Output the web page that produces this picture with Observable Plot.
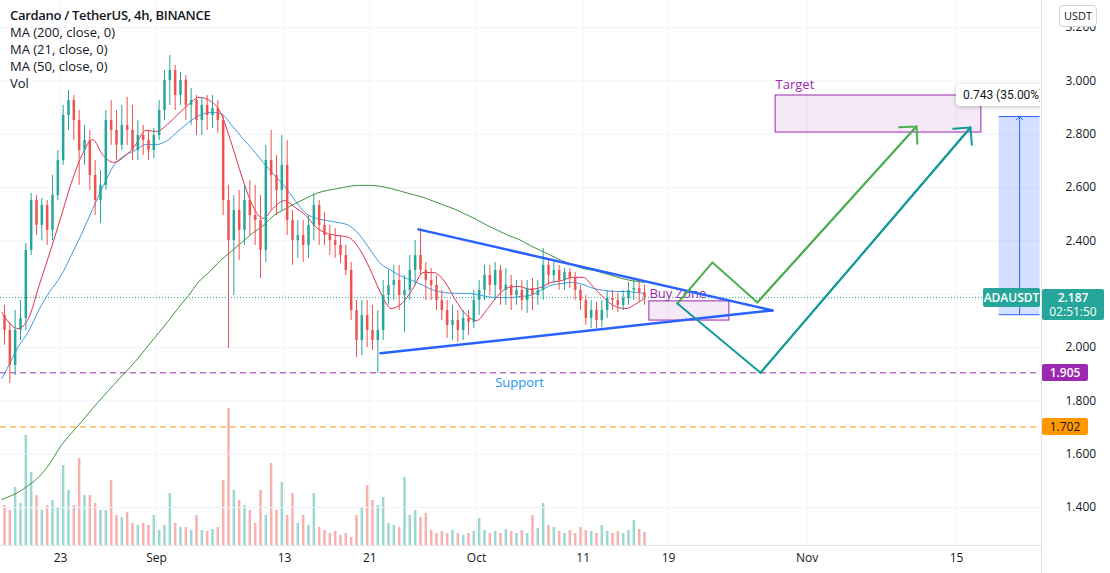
<!DOCTYPE html>
<html><head><meta charset="utf-8">
<script src="https://cdn.jsdelivr.net/npm/d3@7"></script>
<script src="https://cdn.jsdelivr.net/npm/@observablehq/plot@0.6"></script>
<style>
body{margin:0;background:#fff;}
#wrap{position:relative;width:1110px;height:573px;overflow:hidden;font-family:'Open Sans','Noto Sans',sans-serif;color:#131722;}
#wrap svg{position:absolute;left:0;top:0;}
.ov{position:absolute;}
#legend{left:10px;top:7px;font-size:13px;line-height:17px;}
#legend .t{font-weight:600;letter-spacing:-0.3px;}
.badge{position:absolute;font-size:12px;font-weight:600;text-align:center;border-radius:2px;}
#pane{position:absolute;left:0;top:0;width:1040px;height:545px;overflow:hidden;}
.sep{position:absolute;background:#e0e3eb;}
</style></head>
<body><div id="wrap"></div>
<script>
// ---------- data ----------
const candleStart = "2021-08-17T12:00:00Z";
const candleHours = 12;
const open = [
2.120,2.064,1.933,2.064,2.109,2.364,2.551,2.458,2.533,2.439,
2.570,2.701,2.870,2.926,2.851,2.739,2.776,2.645,2.551,2.608,
2.851,2.814,2.758,2.833,2.814,2.739,2.795,2.776,2.739,2.795,
2.889,3.001,3.039,2.945,3.001,2.908,2.926,2.851,2.908,2.870,
2.896,2.851,2.551,2.401,2.514,2.439,2.551,2.495,2.476,2.364,
2.701,2.645,2.589,2.683,2.476,2.401,2.420,2.383,2.458,2.533,
2.458,2.420,2.401,2.383,2.345,2.289,2.139,2.026,2.120,2.064,
2.026,2.064,2.195,2.233,2.251,2.195,2.214,2.289,2.345,2.289,
2.251,2.233,2.176,2.139,2.083,2.101,2.064,2.109,2.094,2.176,
2.214,2.270,2.233,2.289,2.214,2.233,2.195,2.214,2.176,2.221,
2.195,2.214,2.308,2.270,2.289,2.251,2.281,2.259,2.214,2.176,
2.109,2.139,2.101,2.139,2.184,2.176,2.158,2.184,2.214,2.221,2.206];
const high = [
2.158,2.094,2.139,2.176,2.390,2.578,2.570,2.559,2.551,2.645,
2.739,2.908,2.964,2.945,2.889,2.833,2.814,2.701,2.664,2.889,
2.926,2.889,2.908,2.938,2.908,2.851,2.833,2.814,2.821,2.926,
3.039,3.095,3.058,3.031,3.020,2.971,2.945,2.938,2.945,2.945,
2.926,2.870,2.608,2.570,2.589,2.608,2.626,2.608,2.570,2.758,
2.814,2.720,2.795,2.776,2.514,2.476,2.476,2.495,2.578,2.551,
2.506,2.458,2.446,2.420,2.383,2.319,2.176,2.176,2.176,2.158,
2.139,2.251,2.289,2.308,2.308,2.270,2.345,2.401,2.446,2.319,
2.296,2.270,2.214,2.176,2.158,2.139,2.139,2.139,2.214,2.251,
2.308,2.308,2.319,2.308,2.296,2.270,2.251,2.251,2.251,2.259,
2.251,2.371,2.334,2.319,2.308,2.296,2.296,2.281,2.233,2.195,
2.176,2.169,2.176,2.214,2.214,2.203,2.214,2.244,2.251,2.251,2.233];
const low = [
2.008,1.865,1.895,2.026,2.064,2.345,2.420,2.401,2.383,2.401,
2.551,2.683,2.814,2.776,2.608,2.683,2.589,2.495,2.465,2.589,
2.758,2.701,2.739,2.758,2.701,2.701,2.720,2.701,2.709,2.776,
2.851,2.908,2.889,2.908,2.851,2.833,2.795,2.795,2.814,2.821,
2.803,2.495,1.996,2.195,2.326,2.383,2.420,2.383,2.259,2.319,
2.514,2.495,2.514,2.420,2.308,2.334,2.319,2.334,2.401,2.383,
2.383,2.345,2.334,2.315,2.270,2.101,1.962,1.970,2.000,1.989,
1.903,2.026,2.158,2.176,2.139,2.056,2.176,2.233,2.270,2.176,
2.176,2.139,2.101,2.034,2.026,2.019,2.026,2.045,2.071,2.120,
2.176,2.195,2.176,2.158,2.158,2.139,2.158,2.139,2.128,2.139,
2.158,2.176,2.233,2.240,2.214,2.214,2.221,2.176,2.139,2.083,
2.071,2.071,2.075,2.109,2.139,2.131,2.139,2.158,2.176,2.169,2.158];
const close = [
2.064,1.933,2.064,2.109,2.364,2.551,2.458,2.533,2.439,2.570,
2.701,2.870,2.926,2.851,2.739,2.776,2.645,2.551,2.608,2.851,
2.814,2.758,2.833,2.814,2.739,2.795,2.776,2.739,2.795,2.889,
3.001,3.039,2.945,3.001,2.908,2.926,2.851,2.908,2.870,2.896,
2.851,2.551,2.401,2.514,2.439,2.551,2.495,2.476,2.364,2.701,
2.645,2.589,2.683,2.476,2.401,2.420,2.383,2.458,2.533,2.458,
2.420,2.401,2.383,2.345,2.289,2.139,2.026,2.120,2.064,2.026,
2.064,2.195,2.233,2.251,2.195,2.214,2.289,2.345,2.289,2.251,
2.233,2.176,2.139,2.083,2.101,2.064,2.109,2.094,2.176,2.214,
2.270,2.233,2.289,2.214,2.233,2.195,2.214,2.176,2.221,2.195,
2.214,2.308,2.270,2.289,2.251,2.281,2.259,2.214,2.176,2.109,
2.139,2.101,2.139,2.184,2.176,2.158,2.184,2.214,2.221,2.206,2.187];
// volume, millions of ADA
const volume = [
80,70,116,84,220,146,100,70,80,90,
76,160,110,80,174,100,100,84,70,70,
130,60,56,66,44,40,44,40,60,30,
40,104,44,36,36,30,60,30,28,32,
36,130,274,110,90,80,70,44,110,60,
164,70,126,60,104,44,60,40,104,36,
30,24,28,20,24,16,60,74,120,90,
80,96,44,40,36,136,60,70,56,64,
30,24,28,24,30,24,20,24,28,54,
30,24,28,24,32,28,24,30,24,60,
34,84,40,36,28,24,30,24,36,30,
28,24,40,28,24,28,24,30,50,32,26];

// moving averages: first point, then daily 00:00 UTC Aug 18 .. Oct 16, then last point
const maFirst = "2021-08-17T12:00:00Z", maDailyFrom = "2021-08-18", maDailyTo = "2021-10-17", maLast = "2021-10-16T18:00:00Z";
const ma21 = [2.131,2.101,2.071,2.109,2.233,2.356,2.484,2.615,2.720,2.780,2.720,2.694,2.716,2.758,2.814,
2.810,2.836,2.874,2.911,2.938,2.926,2.881,2.769,2.641,2.533,2.484,2.525,2.551,2.525,2.495,2.450,2.428,2.420,2.413,2.371,2.296,2.206,2.146,2.165,2.218,2.281,2.281,2.248,2.180,2.124,
2.101,2.143,2.195,2.225,2.229,2.218,2.225,2.244,2.251,2.263,2.263,2.225,2.184,2.154,2.146,2.165,2.184];
const ma50 = [1.884,1.921,2.000,2.060,2.143,2.210,2.266,2.345,2.428,2.518,2.604,2.683,2.720,2.739,2.761,
2.761,2.776,2.810,2.844,2.870,2.881,2.878,2.836,2.788,2.743,2.694,2.649,2.604,2.551,2.503,2.484,2.476,2.469,2.458,2.424,2.368,2.315,2.289,2.266,2.251,2.233,2.214,2.206,2.203,2.203,
2.199,2.191,2.187,2.187,2.191,2.195,2.214,2.233,2.240,2.244,2.236,2.221,2.214,2.210,2.210,2.206,2.203];
const ma200 = [1.430,1.438,1.456,1.483,1.516,1.565,1.629,1.678,1.723,1.771,1.816,1.861,1.903,1.947,1.996,
2.045,2.094,2.146,2.195,2.248,2.285,2.326,2.360,2.394,2.428,2.458,2.495,2.518,2.540,2.559,2.578,2.589,2.596,2.604,2.608,2.608,2.604,2.596,2.585,2.574,2.563,2.548,2.533,2.518,2.499,
2.480,2.458,2.439,2.420,2.405,2.383,2.364,2.345,2.326,2.311,2.296,2.289,2.278,2.266,2.255,2.248,2.244];

// axes
const xTickDates = ["2021-08-23","2021-09-01","2021-09-13","2021-09-21","2021-10-01","2021-10-11","2021-10-19","2021-11-01","2021-11-15"];
const xTickLabels = ["23","Sep","13","21","Oct","11","19","Nov","15"];
const yGrid = [1.4,1.6,1.8,2.0,2.2,2.4,2.6,2.8,3.0,3.2];
const yLabels = [1.4,1.6,1.8,2.0,2.4,2.6,2.8,3.0,3.2];
const xDomain = ["2021-08-17T09:00:00Z","2021-11-22T21:00:00Z"];
const yDomain = [1.2575, 3.30125];

// levels
const lastPrice = 2.187;
const supportLevel = 1.905;
const lowerLevel = 1.702;

// drawings
const triUpper = [{t:"2021-09-25T13:30:00Z",p:2.443},{t:"2021-10-28T18:00:00Z",p:2.139}];
const triLower = [{t:"2021-09-22T00:00:00Z",p:1.978},{t:"2021-10-28T18:00:00Z",p:2.139}];
const buyZone = {t1:"2021-10-17T05:00:00Z",t2:"2021-10-24T17:00:00Z",p1:2.101,p2:2.173,label:"Buy Zone"};
const target = {t1:"2021-10-29T01:00:00Z",t2:"2021-11-17T08:00:00Z",p1:2.806,p2:2.945,label:"Target"};
const greenPath = [{t:"2021-10-19T20:00:00Z",p:2.165},{t:"2021-10-23T03:00:00Z",p:2.319},{t:"2021-10-27T08:00:00Z",p:2.169},{t:"2021-11-11T06:00:00Z",p:2.829}];
const tealPath = [{t:"2021-10-19T20:00:00Z",p:2.165},{t:"2021-10-27T15:00:00Z",p:1.905},{t:"2021-11-16T07:30:00Z",p:2.825}];
const supportLabel = {t:"2021-10-05T01:00:00Z",p:1.905,label:"Support"};
const priceRange = {t1:"2021-11-19T00:00:00Z",t2:"2021-11-22T20:00:00Z",tm:"2021-11-20T22:00:00Z",tl:"2021-11-15T00:00:00Z",p1:2.123,p2:2.866,label:"0.743 (35.00%) 743"};

// ---------- build ----------
const UP = "#26a69a", DOWN = "#ef5350";
const t0 = new Date(candleStart);
const candles = open.map((o,i)=>({t:d3.utcHour.offset(t0, i*candleHours + candleHours/2), o, h:high[i], l:low[i], c:close[i], v:volume[i]}));
const col = d => d.c >= d.o ? UP : DOWN;
const maTimes = [new Date(maFirst), ...d3.utcDay.range(new Date(maDailyFrom), new Date(maDailyTo)), new Date(maLast)];
const mkMA = arr => arr.map((p,i)=>({t:maTimes[i], p}));
const P = o => Object.fromEntries(Object.entries(o).map(([k,v])=>[k, /^t/.test(k) ? new Date(v) : v]));
const pts = arr => arr.map(P);
const tickMap = new Map(xTickDates.map((d,i)=>[+new Date(d), xTickLabels[i]]));
const xD = xDomain.map(d=>new Date(d));
const common = {width:1110, height:573, marginLeft:0, marginRight:70, marginTop:0, marginBottom:28};
const font = "'Open Sans','Noto Sans',sans-serif";

const volPlot = Plot.plot({
  ...common,
  x:{type:"utc", domain:xD, axis:null},
  y:{domain:[0,1090], axis:null},
  style:{background:"transparent"},
  marks:[
    Plot.ruleX(candles,{x:"t", y1:0, y2:"v", stroke:col, strokeOpacity:0.45, strokeWidth:2.5})
  ]
});

const bz = P(buyZone), tg = P(target), pr = P(priceRange), sl = P(supportLabel);
const gp = pts(greenPath), tp = pts(tealPath);
const main = Plot.plot({
  ...common,
  x:{type:"utc", domain:xD},
  y:{domain:yDomain},
  style:{background:"transparent", fontSize:"12px", fontFamily:font, color:"#131722"},
  marks:[
    Plot.gridX(xTickDates.map(d=>new Date(d)),{stroke:"#f0f3fa", strokeOpacity:1}),
    Plot.gridY(yGrid,{stroke:"#f0f3fa", strokeOpacity:1}),
    Plot.axisX(xTickDates.map(d=>new Date(d)),{tickFormat:d=>tickMap.get(+d), tickSize:0, tickPadding:8, label:null, fontSize:12}),
    Plot.axisY(yLabels,{anchor:"right", tickFormat:d3.format(".3f"), tickSize:0, tickPadding:25, label:null, fontSize:12}),
    Plot.ruleY([lowerLevel],{stroke:"#ff9800", strokeDasharray:"6,4", strokeWidth:1}),
    Plot.ruleY([supportLevel],{stroke:"#9c27b0", strokeDasharray:"6,4", strokeWidth:1}),
    Plot.ruleY([lastPrice],{stroke:UP, strokeDasharray:"1,2", strokeWidth:1}),
    Plot.line(mkMA(ma200),{x:"t", y:"p", stroke:"#3f8f3a", strokeWidth:1, curve:"monotone-x"}),
    Plot.line(mkMA(ma50),{x:"t", y:"p", stroke:"#3d9ae0", strokeWidth:1, curve:"monotone-x"}),
    Plot.line(mkMA(ma21),{x:"t", y:"p", stroke:"#e0304e", strokeWidth:1, curve:"monotone-x"}),
    Plot.ruleX(candles,{x:"t", y1:"l", y2:"h", stroke:col, strokeWidth:1}),
    Plot.ruleX(candles,{x:"t", y1:"o", y2:"c", stroke:col, strokeWidth:2.5}),
    Plot.rect([bz],{x1:"t1", x2:"t2", y1:"p1", y2:"p2", fill:"#9c27b0", fillOpacity:0.1, stroke:"#9c27b0", strokeWidth:1}),
    Plot.rect([tg],{x1:"t1", x2:"t2", y1:"p1", y2:"p2", fill:"#9c27b0", fillOpacity:0.1, stroke:"#9c27b0", strokeWidth:1}),
    Plot.text([bz],{x:"t1", y:"p2", text:"label", textAnchor:"start", lineAnchor:"bottom", dy:-3, fill:"#9c27b0", fontSize:13}),
    Plot.text([tg],{x:"t1", y:"p2", text:"label", textAnchor:"start", lineAnchor:"bottom", dy:-7, fill:"#9c27b0", fontSize:13}),
    Plot.text([sl],{x:"t", y:"p", text:"label", textAnchor:"middle", lineAnchor:"middle", dy:10, fill:"#2196f3", fontSize:13}),
    Plot.line(pts(triUpper),{x:"t", y:"p", stroke:"#2962ff", strokeWidth:2.5}),
    Plot.line(pts(triLower),{x:"t", y:"p", stroke:"#2962ff", strokeWidth:2.5}),
    Plot.line(gp,{x:"t", y:"p", stroke:"#4caf50", strokeWidth:2}),
    Plot.arrow([{a:gp[2], b:gp[3]}],{x1:d=>d.a.t, y1:d=>d.a.p, x2:d=>d.b.t, y2:d=>d.b.p, stroke:"#4caf50", strokeWidth:2, headLength:13, headAngle:90}),
    Plot.line(tp,{x:"t", y:"p", stroke:"#159a97", strokeWidth:2}),
    Plot.arrow([{a:tp[1], b:tp[2]}],{x1:d=>d.a.t, y1:d=>d.a.p, x2:d=>d.b.t, y2:d=>d.b.p, stroke:"#159a97", strokeWidth:2, headLength:13, headAngle:90}),
    Plot.rect([pr],{x1:"t1", x2:"t2", y1:"p1", y2:"p2", fill:"#2962ff", fillOpacity:0.2}),
    Plot.ruleY([pr],{y:"p1", x1:"t1", x2:"t2", stroke:"#2962ff", strokeWidth:1}),
    Plot.ruleY([pr],{y:"p2", x1:"t1", x2:"t2", stroke:"#2962ff", strokeWidth:1}),
    Plot.arrow([pr],{x1:"tm", x2:"tm", y1:"p1", y2:"p2", stroke:"#2962ff", strokeWidth:1, headLength:7, headAngle:90})
  ]
});

const wrap = document.getElementById("wrap");
wrap.appendChild(volPlot);
wrap.appendChild(main);
const xs = v => main.scale("x").apply(new Date(v));
const ys = v => main.scale("y").apply(v);

// separators
const s1 = document.createElement("div"); s1.className="sep"; Object.assign(s1.style,{left:"1041px",top:"0",width:"1px",height:"573px"}); wrap.appendChild(s1);
const s2 = document.createElement("div"); s2.className="sep"; Object.assign(s2.style,{left:"0",top:"545px",width:"1041px",height:"1px"}); wrap.appendChild(s2);

// pane overlay (price range label, clipped at the pane edge)
const pane = document.createElement("div"); pane.id="pane"; wrap.appendChild(pane);
const prl = document.createElement("div");
Object.assign(prl.style,{position:"absolute", left:xs(pr.tl)+"px", top:(ys(pr.p2)-32)+"px", background:"#fff", borderRadius:"4px", boxShadow:"0 1px 4px rgba(0,0,0,0.25)", padding:"0 7px", fontFamily:"Roboto,'Liberation Sans',sans-serif", fontSize:"12px", lineHeight:"22px", whiteSpace:"nowrap", color:"#131722"});
prl.textContent = pr.label; pane.appendChild(prl);

// badges
function badge(text, left, top, w, h, bg, fg, extra){
  const b = document.createElement("div"); b.className="badge";
  Object.assign(b.style,{left:left+"px", top:top+"px", width:w+"px", height:h+"px", background:bg, color:fg, lineHeight:h+"px"}, extra||{});
  b.innerHTML = text; wrap.appendChild(b); return b;
}
const yl = ys(lastPrice);
badge("ADAUSDT", 983, yl-9.5, 57, 19, UP, "#fff");
badge("<div style='line-height:15px;padding-top:1px'>"+d3.format(".3f")(lastPrice)+"</div><div style='line-height:14px;font-weight:400'>02:51:50</div>", 1042, yl-8.5, 62, 31, UP, "#fff", {lineHeight:"normal"});
badge(d3.format(".3f")(supportLevel), 1042, ys(supportLevel)-8.5, 46, 17, "#9c27b0", "#fff");
badge(d3.format(".3f")(lowerLevel), 1042, ys(lowerLevel)-8.5, 46, 17, "#ff9800", "#131722", {fontWeight:"400"});
badge("USDT", 1059, 5, 36, 20, "#fff", "#131722", {border:"1px solid #d1d4dc", borderRadius:"4px", fontSize:"11px", fontWeight:"400", lineHeight:"20px"});

// legend
const lg = document.createElement("div"); lg.id="legend"; lg.className="ov";
lg.innerHTML = "<div class='t'>Cardano / TetherUS, 4h, BINANCE</div><div>MA (200, close, 0)</div><div>MA (21, close, 0)</div><div>MA (50, close, 0)</div><div>Vol</div>";
wrap.appendChild(lg);
</script></body></html>
